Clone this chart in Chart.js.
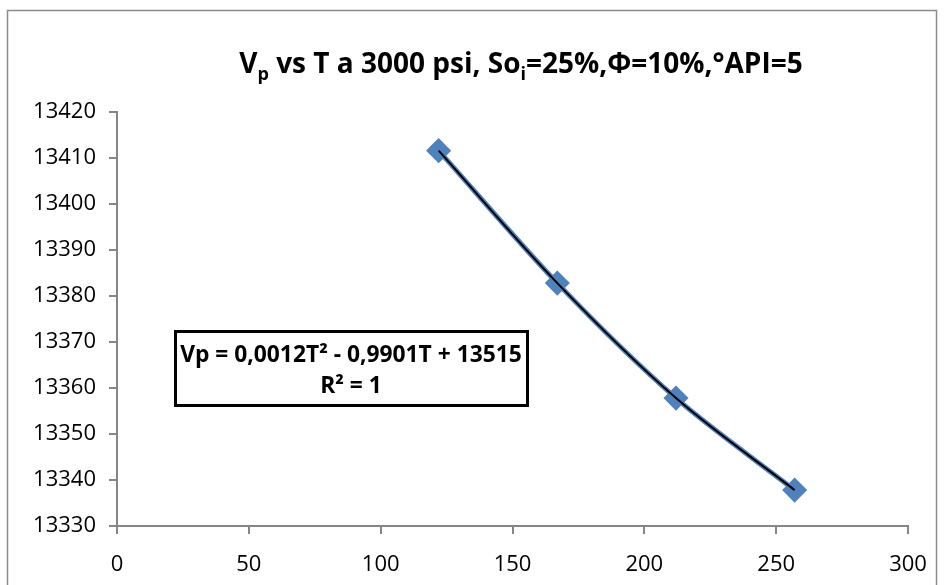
<!DOCTYPE html>
<html>
<head>
<meta charset="utf-8">
<script src="https://cdn.jsdelivr.net/npm/chart.js@4.4.0/dist/chart.umd.min.js"></script>
<style>
html,body{margin:0;padding:0;background:#fff;}
#wrap{width:945px;height:585px;}
</style>
</head>
<body>
<div id="wrap"><canvas id="c" width="945" height="585"></canvas></div>
<script>
// data
var temps = [122, 167, 212, 257];
var vp = [13411.6, 13382.8, 13357.8, 13337.8];
var xTicks = [0, 50, 100, 150, 200, 250, 300];
var yTicks = [13330, 13340, 13350, 13360, 13370, 13380, 13390, 13400, 13410, 13420];
// [text, isSubscript]
var titleParts = [['V', 0], ['p', 1], [' vs T a 3000 psi, So', 0], ['i', 1], ['=25%,\u03A6=10%,\u00B0API=5', 0]];
var eqLines = ['Vp = 0,0012T\u00B2 - 0,9901T + 13515', 'R\u00B2 = 1'];

var FONT = '"Open Sans", "Noto Sans", sans-serif';
var BLUE = '#4F81BD';
var AXIS = '#868686';

var points = temps.map(function(t, i){ return {x: t, y: vp[i]}; });

var extras = {
	id: 'extras',
	afterDraw: function(chart){
		var ctx = chart.ctx;
		ctx.save();
		// outer frame
		ctx.strokeStyle = '#8c8c8c';
		ctx.lineWidth = 1.5;
		ctx.strokeRect(7.5, 10.5, 929, 620);

		// title with subscripts
		var big = 'bold 28px ' + FONT, small = 'bold 18px ' + FONT;
		var w = 0;
		titleParts.forEach(function(p){
			ctx.font = p[1] ? small : big;
			w += ctx.measureText(p[0]).width;
		});
		var x = 521 - w / 2, base = 73;
		ctx.fillStyle = '#000';
		ctx.textBaseline = 'alphabetic';
		ctx.textAlign = 'left';
		titleParts.forEach(function(p){
			ctx.font = p[1] ? small : big;
			ctx.fillText(p[0], x, p[1] ? base + 7 : base);
			x += ctx.measureText(p[0]).width;
		});

		// trendline equation box
		ctx.lineWidth = 3;
		ctx.strokeStyle = '#000';
		ctx.strokeRect(175.5, 331.5, 352, 74);
		ctx.font = 'bold 22.8px ' + FONT;
		ctx.textAlign = 'center';
		ctx.fillText(eqLines[0], 351, 362);
		ctx.fillText(eqLines[1], 351, 393);
		ctx.restore();
	}
};

var chart = new Chart(document.getElementById('c'), {
	type: 'line',
	data: {
		datasets: [{
			label: 'trend',
			data: points,
			borderColor: '#000',
			borderWidth: 2,
			pointRadius: 0,
			tension: 0.35,
			fill: false,
			order: 0
		}, {
			label: 'Vp',
			data: points,
			borderColor: BLUE,
			backgroundColor: BLUE,
			borderWidth: 5,
			pointStyle: 'rectRot',
			pointRadius: 9,
			pointBackgroundColor: BLUE,
			pointBorderColor: BLUE,
			tension: 0.3,
			fill: false,
			order: 1
		}]
	},
	options: {
		responsive: false,
		devicePixelRatio: 1,
		animation: false,
		layout: {padding: {left: 0, right: 37, top: 112, bottom: 0}},
		plugins: {legend: {display: false}, tooltip: {enabled: false}, title: {display: false}},
		scales: {
			x: {
				type: 'linear',
				min: 0, max: 300,
				afterBuildTicks: function(s){ s.ticks = xTicks.map(function(v){ return {value: v}; }); },
				afterFit: function(s){ s.height = 59; },
				grid: {drawOnChartArea: false, drawTicks: true, tickLength: 8, color: AXIS, lineWidth: 2},
				border: {color: AXIS, width: 2},
				ticks: {color: '#000', font: {family: FONT, size: 22}, padding: 18, maxRotation: 0,
					callback: function(v){ return String(v); }}
			},
			y: {
				type: 'linear',
				min: 13330, max: 13420,
				afterBuildTicks: function(s){ s.ticks = yTicks.map(function(v){ return {value: v}; }); },
				afterFit: function(s){ s.width = 117; },
				grid: {drawOnChartArea: false, drawTicks: true, tickLength: 8, color: AXIS, lineWidth: 2},
				border: {color: AXIS, width: 2},
				ticks: {color: '#000', font: {family: FONT, size: 22}, padding: 13,
					callback: function(v){ return String(v); }}
			}
		}
	},
	plugins: [extras]
});
</script>
</body>
</html>
